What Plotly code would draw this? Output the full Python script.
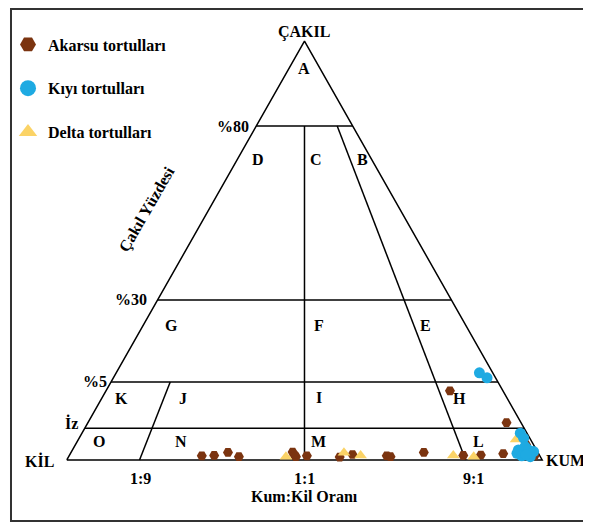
import plotly.graph_objects as go

# triangle: KIL at x=0, KUM at x=100, CAKIL apex at (50, 100)
# gravel levels (drawn heights inside the diagram)
level_names = ["İz", "%5", "%30", "%80"]
level_heights = [7.6, 18.6, 38.2, 79.7]

# sand:mud ratio lines (base position, top level reached)
ratio_names = ["1:9", "1:1", "9:1"]
ratio_base = [15.3, 50.0, 83.9]
ratio_top = [18.6, 79.7, 79.7]

# samples: x = position along Kum:Kil axis, y = gravel height
akarsu_x = [28.4, 31.0, 33.9, 36.2, 47.5, 47.9, 48.2, 50.5, 57.4, 60.1, 67.3, 68.1,
            75.1, 83.4, 87.1, 91.8, 92.5, 80.6, 96.6, 98.4]
akarsu_y = [1.0, 1.1, 1.8, 0.8, 1.9, 1.2, 0.8, 1.0, 0.7, 1.3, 1.0, 0.8,
            1.8, 1.1, 1.2, 1.5, 8.9, 16.5, 3.7, 1.0]

kiyi_x = [86.8, 88.4, 95.4, 96.1, 96.4, 95.0, 94.7, 95.7, 97.1, 98.2, 97.5, 96.6]
kiyi_y = [20.8, 19.6, 6.4, 5.2, 3.2, 2.4, 1.6, 1.0, 2.4, 2.0, 0.8, 1.2]

delta_x = [46.1, 58.3, 61.8, 81.3, 85.6, 94.5]
delta_y = [0.8, 1.7, 1.1, 1.1, 0.8, 4.9]

region_labels = ["A", "B", "C", "D", "E", "F", "G", "H", "I", "J", "K", "L", "M", "N", "O"]
region_pos = [(49.9, 93.4), (62.1, 71.8), (52.4, 71.8), (40.3, 71.8),
              (75.5, 32.2), (53.0, 32.2), (22.0, 32.2),
              (82.6, 14.6), (53.0, 15.0), (24.5, 14.6), (11.5, 14.6),
              (86.6, 4.5), (53.0, 4.5), (24.1, 4.5), (6.7, 4.5)]

BROWN = "#7b3410"
BLUE = "#1eaae2"
YELLOW = "#fbd366"
FONT = "Liberation Serif"
FS = 16
W, H = 583, 515
line_style = dict(color="black", width=1.5)

fig = go.Figure()

# outer triangle
fig.add_trace(go.Scatter(x=[0, 50, 100, 0], y=[0, 100, 0, 0], mode="lines",
                         line=line_style, showlegend=False, hoverinfo="skip"))

# horizontal gravel levels
for h in level_heights:
    fig.add_trace(go.Scatter(x=[0.5 * h, 100 - 0.5 * h], y=[h, h], mode="lines",
                             line=line_style, showlegend=False, hoverinfo="skip"))

# ratio lines, pointing at the apex
for b, top in zip(ratio_base, ratio_top):
    fig.add_trace(go.Scatter(x=[b, b + (50 - b) * top / 100], y=[0, top], mode="lines",
                             line=line_style, showlegend=False, hoverinfo="skip"))

# samples
fig.add_trace(go.Scatter(x=akarsu_x, y=akarsu_y, mode="markers", showlegend=False,
                         marker=dict(symbol="hexagon2", size=10, color=BROWN)))
fig.add_trace(go.Scatter(x=delta_x, y=delta_y, mode="markers", showlegend=False,
                         marker=dict(symbol="triangle-up", size=11, color=YELLOW)))
fig.add_trace(go.Scatter(x=kiyi_x, y=kiyi_y, mode="markers", showlegend=False,
                         marker=dict(symbol="circle", size=11, color=BLUE)))

# legend entries (bigger symbols than the plotted ones)
for name, sym, col, grp in [("Akarsu tortulları", "hexagon2", BROWN, "a"),
                            ("Kıyı tortulları", "circle", BLUE, "b"),
                            ("Delta tortulları", "triangle-up", YELLOW, "c")]:
    fig.add_trace(go.Scatter(x=[None], y=[None], mode="markers", name=name, legendgroup=grp,
                             marker=dict(symbol=sym, size=16, color=col)))

ann = []
for lab, (x, y) in zip(region_labels, region_pos):
    ann.append(dict(x=x, y=y, text=lab))

ann.append(dict(x=49.9, y=102.2, text="ÇAKIL"))
ann.append(dict(x=-5.8, y=-0.2, text="KİL"))
ann.append(dict(x=105.0, y=-0.2, text="KUM"))
level_label_x = [1.0, 5.9, 13.6, 35.0]
level_label_dy = [1.2, 0.2, 0.0, 0.0]
for name, h, lx, dy in zip(level_names, level_heights, level_label_x, level_label_dy):
    ann.append(dict(x=lx, y=h + dy, text=name))
ratio_label_x = [15.6, 50.0, 85.5]
for name, lx in zip(ratio_names, ratio_label_x):
    ann.append(dict(x=lx, y=-4.3, text=name))
ann.append(dict(x=49.9, y=-8.6, text="Kum:Kil Oranı"))
ann.append(dict(x=16.9, y=59.9, text="Çakıl Yüzdesi", textangle=-60))

for a in ann:
    a.update(xref="x", yref="y", showarrow=False,
             font=dict(family=FONT, size=FS, color="black", weight="bold"))

fig.update_layout(
    width=W, height=H,
    margin=dict(l=0, r=0, t=0, b=0),
    paper_bgcolor="white", plot_bgcolor="white",
    xaxis=dict(range=[-11.95, 110.27], visible=False, fixedrange=True),
    yaxis=dict(range=[-15.04, 107.88], visible=False, fixedrange=True),
    annotations=ann,
    showlegend=True,
    legend=dict(x=-2 / W, y=1 - 19.5 / H, xanchor="left", yanchor="top", tracegroupgap=20,
                bgcolor="rgba(0,0,0,0)",
                font=dict(family=FONT, size=FS, color="black", weight="bold")),
    shapes=[dict(type="rect", xref="paper", yref="paper",
                 x0=1 / W, x1=580 / W, y0=1 - 513 / H, y1=1 - 1 / H,
                 line=dict(color="#333333", width=2))],
)

fig.write_html("out.html")
